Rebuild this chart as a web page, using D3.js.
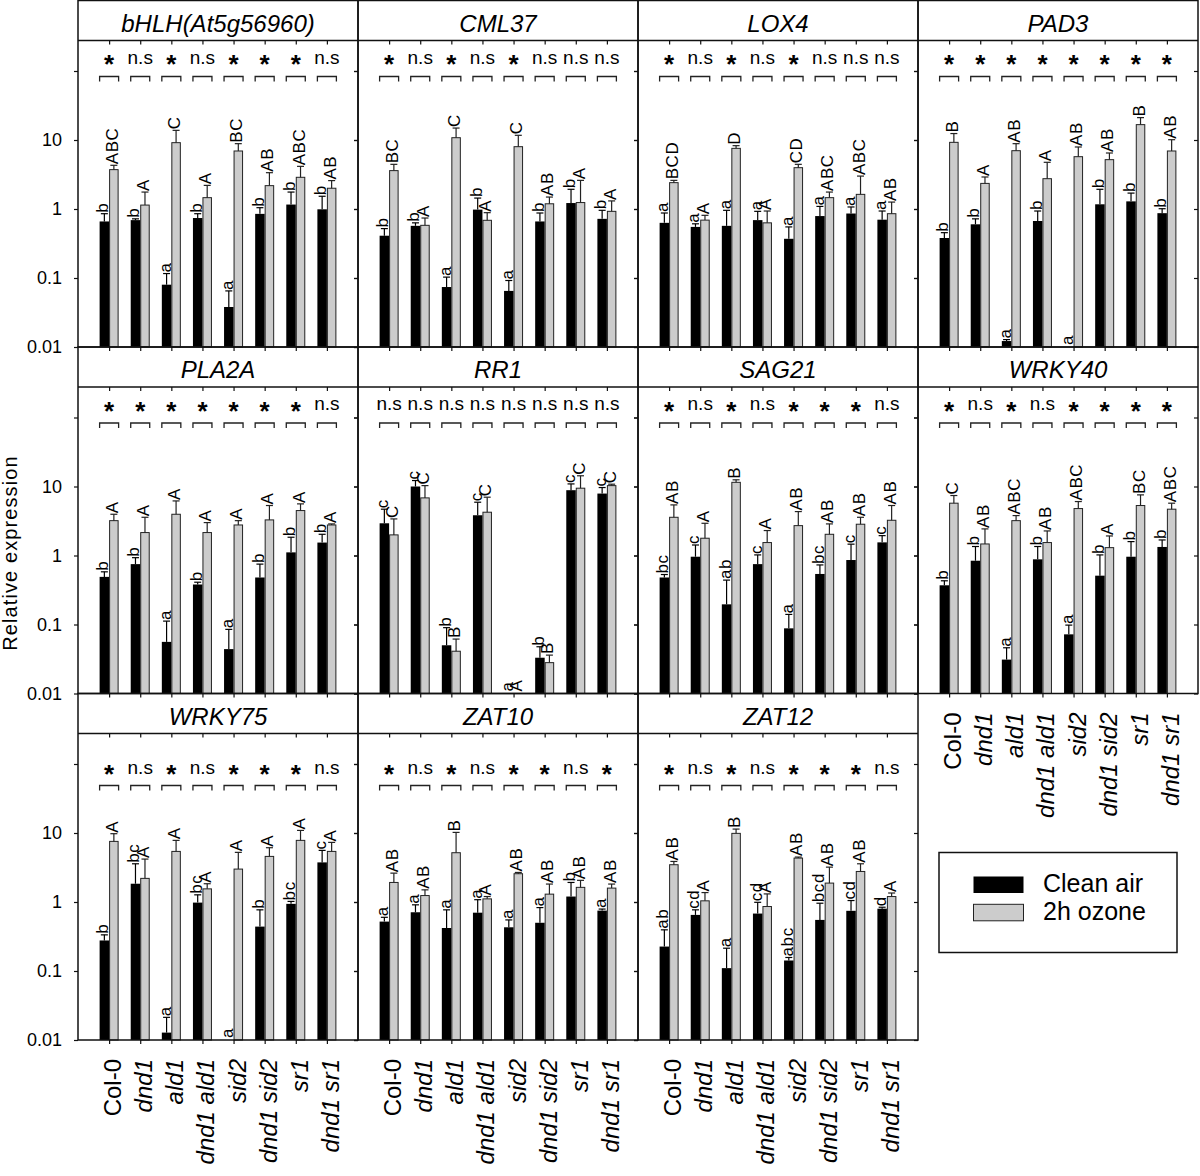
<!DOCTYPE html>
<html><head><meta charset="utf-8">
<script src="https://cdn.jsdelivr.net/npm/d3@7"></script>
<style>
body{margin:0;background:#fff}
svg{display:block}
text{font-family:"Liberation Sans",Arial,Helvetica,sans-serif;fill:#000}
</style>
</head><body>
<svg id="chart" width="1200" height="1176"></svg>
<script>
const genes = ["bHLH(At5g56960)","CML37","LOX4","PAD3","PLA2A","RR1","SAG21","WRKY40","WRKY75","ZAT10","ZAT12"];
const genotypes = ["Col-0","dnd1","ald1","dnd1 ald1","sid2","dnd1 sid2","sr1","dnd1 sr1"];
const seriesNames = ["Clean air","2h ozone"];
const yTicks = [0.01,0.1,1,10,100];
const yTickLabels = ["0.01","0.1","1","10",""];

// Clean air means (null = not detected)
const cleanMean = [
  [0.66,0.69,0.080,0.74,0.038,0.85,1.16,0.99],
  [0.41,0.57,0.074,0.98,0.065,0.66,1.22,0.72],
  [0.63,0.55,0.57,0.69,0.37,0.79,0.86,0.70],
  [0.38,0.60,0.0122,0.67,null,1.17,1.29,0.87],
  [0.49,0.75,0.056,0.38,0.044,0.48,1.11,1.54],
  [2.93,10.0,0.050,3.83,null,0.033,8.84,7.9],
  [0.48,0.96,0.196,0.75,0.088,0.54,0.86,1.55],
  [0.37,0.84,0.031,0.88,0.072,0.51,0.96,1.33],
  [0.277,1.84,0.0128,0.98,null,0.44,0.94,3.75],
  [0.52,0.71,0.42,0.70,0.43,0.50,1.2,0.75],
  [0.226,0.65,0.11,0.68,0.142,0.55,0.745,0.80]
];
// Clean air upper error whisker (mean + SE)
const cleanUpper = [
  [0.855,0.72,0.116,0.855,0.065,1.045,1.76,1.53],
  [0.52,0.63,0.103,1.44,0.092,0.875,1.93,0.957],
  [0.875,0.61,0.957,0.925,0.55,1.09,1.07,0.935],
  [0.454,0.72,0.0128,0.935,null,1.93,1.7,1.01],
  [0.58,0.93,0.112,0.41,0.085,0.75,1.84,2.03],
  [4.69,12.2,0.09,5.92,null,0.0476,10.9,9.66],
  [0.53,1.42,0.44,1.02,0.14,0.73,1.46,1.94],
  [0.43,1.35,0.046,1.35,0.098,1.02,1.59,1.68],
  [0.334,3.58,0.0213,1.27,null,0.77,1.02,5.6],
  [0.60,0.91,0.77,1.08,0.55,0.83,1.92,0.79],
  [0.395,0.77,0.214,0.99,0.157,0.96,1.05,0.84]
];
// 2h ozone means
const ozoneMean = [
  [3.72,1.14,9.15,1.46,6.93,2.18,2.88,2.0],
  [3.6,0.58,10.8,0.686,8.0,1.19,1.24,0.925],
  [2.41,0.69,7.57,0.63,3.97,1.46,1.63,0.855],
  [9.25,2.35,7.0,2.75,5.73,5.19,16.7,6.93],
  [3.2,2.15,3.96,2.15,2.77,3.28,4.48,2.77],
  [1.99,6.84,0.041,4.24,null,0.028,9.45,10.3],
  [3.58,1.78,11.5,1.54,2.71,2.03,2.84,3.24],
  [5.73,1.47,3.2,1.54,4.79,1.3,5.3,4.69],
  [7.56,2.2,5.41,1.55,3.0,4.58,7.82,5.41],
  [1.92,1.24,5.18,1.11,2.57,1.3,1.63,1.59],
  [3.47,1.04,9.88,0.86,4.33,1.88,2.77,1.2]
];
// 2h ozone upper error whisker
const ozoneUpper = [
  [4.3,1.76,13.8,2.2,8.85,3.36,4.15,2.58],
  [4.44,0.74,14.9,0.885,11.7,1.49,2.6,1.31],
  [2.6,0.81,8.28,0.935,4.44,1.76,3.0,1.26],
  [12.4,2.91,8.85,4.75,7.92,6.48,21.1,10.1],
  [3.96,3.58,6.18,3.0,3.2,5.3,5.6,2.87],
  [3.39,10.3,0.0615,7.0,null,0.036,14.3,10.8],
  [5.41,2.93,12.5,2.3,4.33,2.87,3.58,5.3],
  [7.4,2.43,3.79,2.27,6.05,1.92,7.56,5.73],
  [9.77,4.19,7.82,1.84,5.24,6.12,10.9,7.31],
  [2.62,1.5,10.2,1.2,2.68,1.82,2.06,1.82],
  [3.87,1.37,11.4,1.31,4.48,3.2,3.58,1.35]
];
const cleanLetters = [
  ["b","b","a","b","a","b","b","b"],
  ["b","b","a","b","a","b","b","b"],
  ["a","a","a","a","a","a","a","a"],
  ["b","b","a","b","a","b","b","b"],
  ["b","b","a","b","a","b","b","b"],
  ["c","c","b","c","a","b","c","c"],
  ["bc","c","ab","c","a","bc","c","c"],
  ["b","b","a","b","a","b","b","b"],
  ["b","bc","a","bc","a","b","bc","c"],
  ["a","a","a","a","a","a","b","a"],
  ["ab","cd","a","cd","abc","bcd","cd","d"]
];
const ozoneLetters = [
  ["ABC","A","C","A","BC","AB","ABC","AB"],
  ["BC","A","C","A","C","AB","A","A"],
  ["BCD","A","D","A","CD","ABC","ABC","AB"],
  ["B","A","AB","A","AB","AB","B","AB"],
  ["A","A","A","A","A","A","A","A"],
  ["C","C","B","C","A","B","C","C"],
  ["AB","A","B","A","AB","AB","AB","AB"],
  ["C","AB","ABC","AB","ABC","A","BC","ABC"],
  ["A","A","A","A","A","A","A","A"],
  ["AB","AB","B","A","AB","AB","AB","AB"],
  ["AB","A","B","A","AB","AB","AB","A"]
];
const significance = [
  ["*","n.s","*","n.s","*","*","*","n.s"],
  ["*","n.s","*","n.s","*","n.s","n.s","n.s"],
  ["*","n.s","*","n.s","*","n.s","n.s","n.s"],
  ["*","*","*","*","*","*","*","*"],
  ["*","*","*","*","*","*","*","n.s"],
  ["n.s","n.s","n.s","n.s","n.s","n.s","n.s","n.s"],
  ["*","n.s","*","n.s","*","*","*","n.s"],
  ["*","n.s","*","n.s","*","*","*","*"],
  ["*","n.s","*","n.s","*","*","*","n.s"],
  ["*","n.s","*","n.s","*","*","n.s","*"],
  ["*","n.s","*","n.s","*","*","*","n.s"]
];

// ---------- layout ----------
const svg = d3.select("#chart");
const LEFT0 = 78, COLW = 280, ROWH = 346.5, STRIP = 40;
const decadePx = 69;
const plotH = ROWH - STRIP;
const yMax = Math.pow(10, -2 + plotH / decadePx);
const nsOff = [23, 23, 40];     // baseline of sig text below plot top
const brOff = [36, 36, 52];     // bracket top below plot top
const BW = 9.5;
const labelPanels = new Set([7, 8, 9, 10]);
const INK = "#111";

genes.forEach((gene, p) => {
  const row = Math.floor(p / 4), col = p % 4;
  const L = LEFT0 + col * COLW;
  const top = 0.5 + row * ROWH;
  const pTop = top + STRIP;
  const bottom = top + ROWH;
  const x = d3.scaleLinear().domain([0, 9]).range([L, L + COLW]);
  const y = d3.scaleLog().domain([0.01, yMax]).range([bottom, pTop]);
  const g = svg.append("g");

  // bars
  genotypes.forEach((gt, i) => {
    const c = x(i + 1);
    const series = [
      {m: cleanMean[p][i], u: cleanUpper[p][i], lab: cleanLetters[p][i], x0: c - BW, fill: "#000", stroke: "none", ec: "#000"},
      {m: ozoneMean[p][i], u: ozoneUpper[p][i], lab: ozoneLetters[p][i], x0: c, fill: "#cccccc", stroke: "#222", ec: "#222"}
    ];
    series.forEach(s => {
      const cx = s.x0 + BW / 2;
      let labY;
      if (s.m != null) {
        g.append("rect").attr("x", s.x0 + (s.stroke === "none" ? 0 : 0.5)).attr("y", y(s.m))
          .attr("width", BW - (s.stroke === "none" ? 0 : 1)).attr("height", bottom - y(s.m))
          .attr("fill", s.fill).attr("stroke", s.stroke).attr("stroke-width", 1);
        g.append("line").attr("x1", cx).attr("x2", cx).attr("y1", y(s.m)).attr("y2", y(s.u))
          .attr("stroke", s.ec).attr("stroke-width", 1.2);
        g.append("line").attr("x1", cx - 3.5).attr("x2", cx + 3.5).attr("y1", y(s.u)).attr("y2", y(s.u))
          .attr("stroke", s.ec).attr("stroke-width", 1.2);
        labY = y(s.u) - 1;
      } else {
        labY = bottom - 2;
      }
      g.append("text").attr("transform", `translate(${cx + 4},${labY}) rotate(-90)`)
        .attr("font-size", 17).attr("letter-spacing", "0.6px").attr("text-anchor", "start").text(s.lab);
    });
    // significance bracket + text
    const bt = pTop + brOff[row];
    g.append("path").attr("d", `M${c - BW},${bt + 5}V${bt}H${c + BW}V${bt + 5}`)
      .attr("fill", "none").attr("stroke", "#222").attr("stroke-width", 1.3);
    const sg = significance[p][i];
    if (sg === "*") {
      g.append("text").attr("x", c).attr("y", pTop + nsOff[row] + 9.5).attr("text-anchor", "middle")
        .attr("font-size", 26).attr("font-weight", "bold").text("*");
    } else {
      g.append("text").attr("x", c).attr("y", pTop + nsOff[row]).attr("text-anchor", "middle")
        .attr("font-size", 19).text(sg);
    }
  });

  // axes
  const yl = g.append("g").attr("transform", `translate(${L},0)`)
    .call(d3.axisLeft(y).tickValues(yTicks).tickSize(4).tickPadding(12)
      .tickFormat((d, k) => col === 0 ? yTickLabels[k] : ""));
  const yr = g.append("g").attr("transform", `translate(${L + COLW},0)`)
    .call(d3.axisLeft(y).tickValues(yTicks).tickSize(4).tickFormat(""));
  const xb = g.append("g").attr("transform", `translate(0,${bottom})`)
    .call(d3.axisBottom(x).tickValues(d3.range(1, 9)).tickSize(4).tickFormat(""));
  const xt = g.append("g").attr("transform", `translate(0,${pTop})`)
    .call(d3.axisBottom(x).tickValues(d3.range(1, 9)).tickSize(4).tickFormat(""));
  [yl, yr, xb, xt].forEach(a => {
    a.select(".domain").remove();
    a.selectAll(".tick line").attr("stroke", INK).attr("stroke-width", 1.2);
  });
  yl.selectAll(".tick text").attr("font-size", 18).attr("font-family", '"Liberation Sans",Arial,sans-serif').attr("fill", "#000");

  // frame and title strip
  g.append("rect").attr("x", L).attr("y", top).attr("width", COLW).attr("height", ROWH)
    .attr("fill", "none").attr("stroke", INK).attr("stroke-width", 1.5);
  g.append("line").attr("x1", L).attr("x2", L + COLW).attr("y1", pTop).attr("y2", pTop)
    .attr("stroke", INK).attr("stroke-width", 1.5);
  g.append("text").attr("x", L + COLW / 2).attr("y", top + 31).attr("text-anchor", "middle")
    .attr("font-size", 24).attr("font-style", "italic").text(gene);

  // genotype labels
  if (labelPanels.has(p)) {
    genotypes.forEach((gt, i) => {
      g.append("text").attr("transform", `translate(${x(i + 1) + 12},${bottom + 19}) rotate(-90)`)
        .attr("text-anchor", "end").attr("font-size", 24)
        .attr("font-style", gt === "Col-0" ? "normal" : "italic").text(gt);
    });
  }
});

// y axis title
svg.append("text").attr("transform", "translate(17,553) rotate(-90)")
  .attr("text-anchor", "middle").attr("font-size", 20).attr("letter-spacing", "1.1px")
  .text("Relative expression");

// legend
const lg = svg.append("g");
lg.append("rect").attr("x", 939).attr("y", 852.5).attr("width", 238).attr("height", 100)
  .attr("fill", "none").attr("stroke", INK).attr("stroke-width", 1.5);
const swFill = ["#000", "#cccccc"];
seriesNames.forEach((nm, k) => {
  const yy = 876.5 + k * 27.8;
  lg.append("rect").attr("x", 973.5).attr("y", yy).attr("width", 50).attr("height", 16.5)
    .attr("fill", swFill[k]).attr("stroke", k ? "#222" : "none").attr("stroke-width", 1);
  lg.append("text").attr("x", 1043).attr("y", yy + 15.5).attr("font-size", 25).text(nm);
});
</script>
</body></html>
